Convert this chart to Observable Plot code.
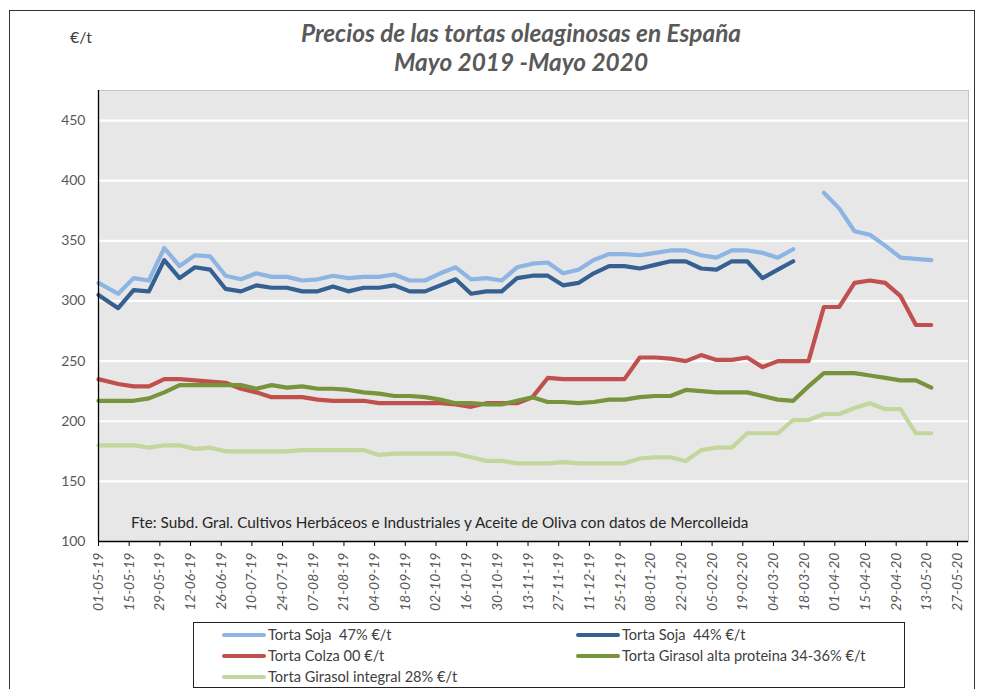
<!DOCTYPE html>
<html><head><meta charset="utf-8">
<script src="https://cdn.jsdelivr.net/npm/d3@7"></script>
<script src="https://cdn.jsdelivr.net/npm/@observablehq/plot@0.6"></script>
<style>
body{margin:0;background:#fff;font-family:Lato,"Open Sans",sans-serif;}
#wrap{position:relative;width:984px;height:689px;overflow:hidden;background:#fff;}
#border{position:absolute;left:9px;top:10px;width:966px;height:720px;border:1.5px solid #333;box-sizing:border-box;}
#chart{position:absolute;left:0;top:0;}
#unit{position:absolute;left:70px;top:27px;font-size:16px;color:#404040;}
#title{position:absolute;left:221px;top:18px;width:600px;text-align:center;font-size:24.4px;line-height:29px;font-weight:bold;font-style:italic;color:#595959;}
#note{position:absolute;left:131px;top:513px;font-size:15.3px;color:#262626;white-space:nowrap;}
#legend{position:absolute;left:193px;top:622px;width:712px;height:66px;border:1px solid #222;box-sizing:border-box;background:#fff;}
.item{position:absolute;font-size:14.6px;color:#404040;white-space:pre;line-height:18px;}
.sw{display:inline-block;width:44px;height:4px;border-radius:2px;vertical-align:middle;margin-right:2px;position:relative;top:-1px;}
</style></head><body>
<div id="wrap">
  <div id="chart"></div>
  <div id="border"></div>
  <div id="unit">€/t</div>
  <div id="title">Precios de las tortas oleaginosas en España<br>Mayo 2019 -Mayo 2020</div>
  <div id="note">Fte: Subd. Gral. Cultivos Herbáceos e Industriales y Aceite de Oliva con datos de Mercolleida</div>
  <div id="legend"></div>
</div>
<script>
const dates = ["2019-05-01","2019-05-10","2019-05-17","2019-05-24","2019-05-31","2019-06-07","2019-06-14","2019-06-21","2019-06-28",
"2019-07-05","2019-07-12","2019-07-19","2019-07-26","2019-08-02","2019-08-09","2019-08-16","2019-08-23","2019-08-30",
"2019-09-06","2019-09-13","2019-09-20","2019-09-27","2019-10-04","2019-10-11","2019-10-18","2019-10-25",
"2019-11-01","2019-11-08","2019-11-15","2019-11-22","2019-11-29","2019-12-06","2019-12-13","2019-12-20","2019-12-27",
"2020-01-03","2020-01-10","2020-01-17","2020-01-24","2020-01-31","2020-02-07","2020-02-14","2020-02-21","2020-02-28",
"2020-03-06","2020-03-13","2020-03-20","2020-03-27","2020-04-03","2020-04-10","2020-04-17","2020-04-24",
"2020-05-01","2020-05-08","2020-05-15"];

const soja47 = [315,306,319,317,344,329,338,337,321,318,323,320,320,317,318,321,319,320,320,322,317,317,323,328,318,319,317,328,331,
332,323,326,334,339,339,338,340,342,342,338,336,342,342,340,336,343,null,390,377,358,355,346,336,335,334];
const soja44 = [305,294,309,308,334,319,328,326,310,308,313,311,311,308,308,312,308,311,311,313,308,308,313,318,306,308,308,319,321,
321,313,315,323,329,329,327,330,333,333,327,326,333,333,319,326,333,null,null,null,null,null,null,null,null,null];
const colza = [235,231,229,229,235,235,234,233,232,227,224,220,220,220,218,217,217,217,215,215,215,215,215,214,212,215,215,215,220,
236,235,235,235,235,235,253,253,252,250,255,251,251,253,245,250,250,250,295,295,315,317,315,304,280,280];
const girasolAP = [217,217,217,219,224,230,230,230,230,230,227,230,228,229,227,227,226,224,223,221,221,220,218,215,215,214,214,217,220,
216,216,215,216,218,218,220,221,221,226,225,224,224,224,221,218,217,229,240,240,240,238,236,234,234,228];
const girasolInt = [180,180,180,178,180,180,177,178,175,175,175,175,175,176,176,176,176,176,172,173,173,173,173,173,170,167,167,165,165,
165,166,165,165,165,165,169,170,170,167,176,178,178,190,190,190,201,201,206,206,211,215,210,210,190,190];

const seriesNames = ["Torta Soja  47% €/t","Torta Soja  44% €/t","Torta Colza 00 €/t","Torta Girasol alta proteina 34-36% €/t","Torta Girasol integral 28% €/t"];
const seriesColors = ["#8DB4E2","#376092","#C0504D","#77933C","#C3D69B"];
const seriesValues = [soja47, soja44, colza, girasolAP, girasolInt];

const tickLabels = ["01-05-19","15-05-19","29-05-19","12-06-19","26-06-19","10-07-19","24-07-19","07-08-19","21-08-19","04-09-19",
"18-09-19","02-10-19","16-10-19","30-10-19","13-11-19","27-11-19","11-12-19","25-12-19","08-01-20","22-01-20","05-02-20",
"19-02-20","04-03-20","18-03-20","01-04-20","15-04-20","29-04-20","13-05-20","27-05-20"];
const yTicks = [100,150,200,250,300,350,400,450];

const parseD = d3.utcParse("%Y-%m-%d");
const parseT = d3.utcParse("%d-%m-%y");
const fmtT = d3.utcFormat("%d-%m-%y");
const tickDates = tickLabels.map(parseT);

const rows = [];
seriesValues.forEach((vals, s) => {
  vals.forEach((v, i) => rows.push({date: parseD(dates[i]), value: v, series: seriesNames[s]}));
});

const xDomain = [parseD("2019-05-01"), parseD("2020-06-01")];

const chart = Plot.plot({
  width: 984,
  height: 620,
  marginLeft: 98,
  marginRight: 16,
  marginTop: 90,
  marginBottom: 79,
  style: {fontFamily: "Lato, 'Open Sans', sans-serif", background: "transparent", overflow: "visible"},
  x: {type: "utc", domain: xDomain, label: null},
  y: {domain: [100, 475], label: null},
  color: {domain: seriesNames, range: seriesColors},
  marks: [
    Plot.frame({fill: "#E7E7E7", stroke: "#C4C4C4"}),
    Plot.gridY(yTicks.filter(d => d > 100), {stroke: "#fff", strokeOpacity: 1, strokeWidth: 2.2}),
    ...seriesNames.map((name, s) => Plot.lineY(rows.filter(r => r.series === name), {
      x: "date", y: "value", stroke: seriesColors[s], strokeWidth: 4.2,
      strokeLinecap: "round", strokeLinejoin: "round"
    })),
    Plot.ruleX([xDomain[0]], {stroke: "#000", strokeWidth: 1.3}),
    Plot.ruleY([100], {stroke: "#000", strokeWidth: 1.3}),
    Plot.axisY({ticks: yTicks, tickSize: 0, tickPadding: 13, fontSize: 14, color: "#595959", label: null}),
    Plot.axisX({ticks: tickDates, tickSize: 5, tickFormat: () => "", color: "#000", label: null}),
    Plot.axisX({ticks: tickDates, tickSize: 0, tickPadding: 11, tickRotate: -90, tickFormat: fmtT,
      fontSize: 14, fontStyle: "italic", color: "#595959", label: null})
  ]
});
chart.querySelectorAll("text").forEach(t => {
  if (/^\d\d-\d\d-\d\d$/.test(t.textContent.trim())) t.style.fontStyle = "italic";
});
document.getElementById("chart").appendChild(chart);

const legend = document.getElementById("legend");
const pos = [[28,3],[382,3],[28,24],[382,24],[28,45]];
seriesNames.forEach((name, i) => {
  const el = document.createElement("div");
  el.className = "item";
  el.style.left = pos[i][0] + "px";
  el.style.top = pos[i][1] + "px";
  el.innerHTML = `<span class="sw" style="background:${seriesColors[i]}"></span>${name}`;
  legend.appendChild(el);
});
</script>
</body></html>
